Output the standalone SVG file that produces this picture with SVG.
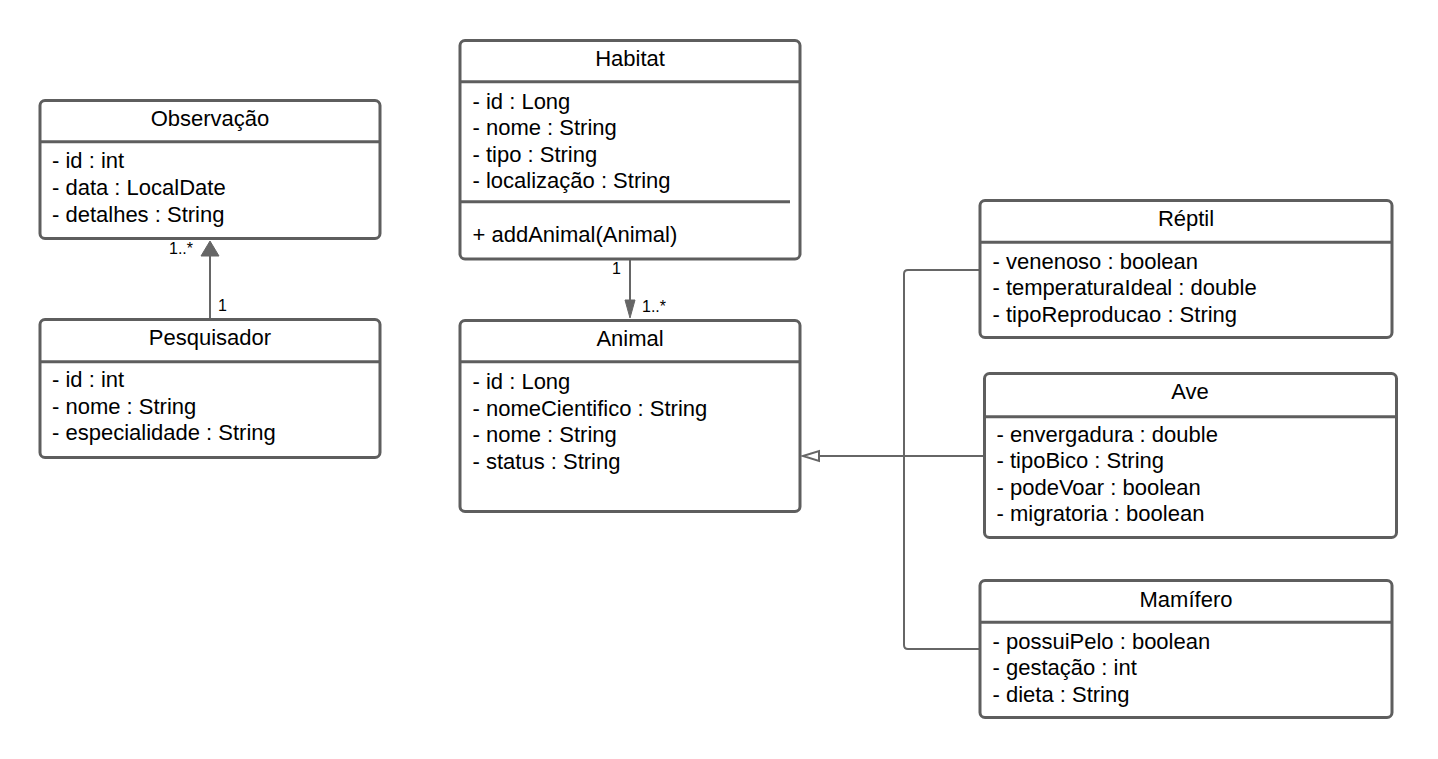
<svg xmlns="http://www.w3.org/2000/svg" width="1438" height="759" viewBox="0 0 1438 759">
<style>
.box{fill:#ffffff;stroke:#5e5e5e;stroke-width:3}
.div{stroke:#5e5e5e;stroke-width:3;fill:none}
.t{font-family:"Liberation Sans",Arial,sans-serif;font-size:22px;fill:#000}
.c{text-anchor:middle}
.lbl{font-family:"Liberation Sans",Arial,sans-serif;font-size:16px;fill:#000}
.edge{stroke:#666666;stroke-width:2;fill:none}
</style>
<rect width="1438" height="759" fill="#ffffff"/>
<g id="connectors">
<path class="edge" d="M210 319 V256"/>
<polygon points="210,241 201,256 219,256" fill="#666666" stroke="#666666" stroke-width="1"/>
<text class="lbl" x="193" y="254" text-anchor="end">1..*</text>
<text class="lbl" x="218" y="311">1</text>
<path class="edge" d="M630 259 V300"/>
<polygon points="630,318 625,300 635,300" fill="#666666" stroke="#666666" stroke-width="1"/>
<text class="lbl" x="612" y="274">1</text>
<text class="lbl" x="642" y="312">1..*</text>
<path class="edge" d="M980 270 H908 Q904 270 904 274 V645 Q904 649 908 649 H980"/>
<path class="edge" d="M984 456 H819"/>
<polygon points="803,456 819,451 819,461" fill="#ffffff" stroke="#666666" stroke-width="2"/>
</g>
<g id="observacao">
<rect class="box" x="40" y="100.5" width="340" height="138" rx="5"/>
<line class="div" x1="40" y1="141.7" x2="380" y2="141.7"/>
<text class="t c" x="210" y="126">Observação</text>
<text class="t" x="52" y="168">- id : int</text>
<text class="t" x="52" y="195">- data : LocalDate</text>
<text class="t" x="52" y="221.5">- detalhes : String</text>
</g>
<g id="pesquisador">
<rect class="box" x="40" y="319.5" width="340" height="138" rx="5"/>
<line class="div" x1="40" y1="361.7" x2="380" y2="361.7"/>
<text class="t c" x="210" y="345">Pesquisador</text>
<text class="t" x="52" y="387">- id : int</text>
<text class="t" x="52" y="413.5">- nome : String</text>
<text class="t" x="52" y="440">- especialidade : String</text>
</g>
<g id="habitat">
<rect class="box" x="460" y="40.5" width="340" height="218.5" rx="5"/>
<line class="div" x1="460" y1="81.7" x2="800" y2="81.7"/>
<text class="t c" x="630" y="66">Habitat</text>
<text class="t" x="472.5" y="108.5">- id : Long</text>
<text class="t" x="472.5" y="135">- nome : String</text>
<text class="t" x="472.5" y="161.5">- tipo : String</text>
<text class="t" x="472.5" y="188">- localização : String</text>
<line class="div" x1="460" y1="201.7" x2="790" y2="201.7"/>
<text class="t" x="472.5" y="242">+ addAnimal(Animal)</text>
</g>
<g id="animal">
<rect class="box" x="460" y="320.5" width="340" height="191" rx="5"/>
<line class="div" x1="460" y1="361.7" x2="800" y2="361.7"/>
<text class="t c" x="630" y="346">Animal</text>
<text class="t" x="472.5" y="389">- id : Long</text>
<text class="t" x="472.5" y="415.5">- nomeCientifico : String</text>
<text class="t" x="472.5" y="442">- nome : String</text>
<text class="t" x="472.5" y="469">- status : String</text>
</g>
<g id="reptil">
<rect class="box" x="980" y="200.5" width="412" height="137" rx="5"/>
<line class="div" x1="980" y1="242.3" x2="1392" y2="242.3"/>
<text class="t c" x="1186" y="226">Réptil</text>
<text class="t" x="992.5" y="268.5">- venenoso : boolean</text>
<text class="t" x="992.5" y="295">- temperaturaIdeal : double</text>
<text class="t" x="992.5" y="321.5">- tipoReproducao : String</text>
</g>
<g id="ave">
<rect class="box" x="984.5" y="373.5" width="412" height="164" rx="5"/>
<line class="div" x1="984.5" y1="416.7" x2="1396.5" y2="416.7"/>
<text class="t c" x="1190" y="399">Ave</text>
<text class="t" x="996.5" y="441.5">- envergadura : double</text>
<text class="t" x="996.5" y="468">- tipoBico : String</text>
<text class="t" x="996.5" y="494.5">- podeVoar : boolean</text>
<text class="t" x="996.5" y="521">- migratoria : boolean</text>
</g>
<g id="mamifero">
<rect class="box" x="980" y="580.5" width="412" height="137" rx="5"/>
<line class="div" x1="980" y1="622.3" x2="1392" y2="622.3"/>
<text class="t c" x="1186" y="607">Mamífero</text>
<text class="t" x="992.5" y="648.5">- possuiPelo : boolean</text>
<text class="t" x="992.5" y="675">- gestação : int</text>
<text class="t" x="992.5" y="701.5">- dieta : String</text>
</g>
</svg>
